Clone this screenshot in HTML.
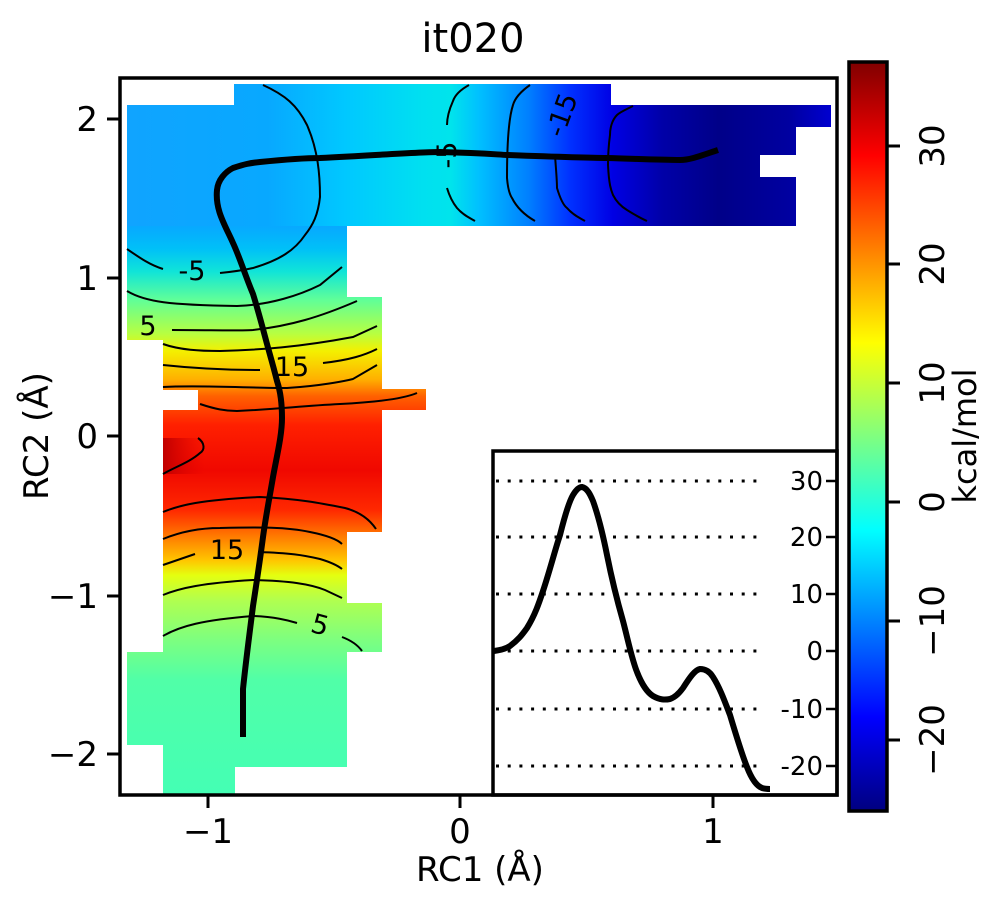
<!DOCTYPE html>
<html><head><meta charset="utf-8"><style>
html,body{margin:0;padding:0;background:#fff;}
svg{display:block;font-family:"DejaVu Sans","Liberation Sans",sans-serif;}
</style></head><body>
<svg width="999" height="900" viewBox="0 0 999 900" xmlns="http://www.w3.org/2000/svg">
<defs>
<linearGradient id="lv" x1="0" y1="226" x2="0" y2="794" gradientUnits="userSpaceOnUse">
<stop offset="0" stop-color="#08a8ff"/>
<stop offset="0.04" stop-color="#00c0f8"/>
<stop offset="0.08" stop-color="#10e4d8"/>
<stop offset="0.13" stop-color="#60ff98"/>
<stop offset="0.19" stop-color="#b8ff40"/>
<stop offset="0.22" stop-color="#f4f000"/>
<stop offset="0.27" stop-color="#ffb000"/>
<stop offset="0.30" stop-color="#ff6000"/>
<stop offset="0.35" stop-color="#ff2000"/>
<stop offset="0.43" stop-color="#f00800"/>
<stop offset="0.50" stop-color="#ff2800"/>
<stop offset="0.545" stop-color="#ff7800"/>
<stop offset="0.59" stop-color="#ffc800"/>
<stop offset="0.615" stop-color="#e4ff10"/>
<stop offset="0.66" stop-color="#b0ff50"/>
<stop offset="0.73" stop-color="#7cff80"/>
<stop offset="0.80" stop-color="#50ffa8"/>
<stop offset="1" stop-color="#44ffb4"/>
</linearGradient>
<linearGradient id="bh" x1="127" y1="0" x2="831" y2="0" gradientUnits="userSpaceOnUse">
<stop offset="0" stop-color="#10a4ff"/>
<stop offset="0.2" stop-color="#08a8ff"/>
<stop offset="0.31" stop-color="#00c8ff"/>
<stop offset="0.42" stop-color="#00e0f0"/>
<stop offset="0.46" stop-color="#00e4ec"/>
<stop offset="0.50" stop-color="#00c0ff"/>
<stop offset="0.57" stop-color="#0080ff"/>
<stop offset="0.63" stop-color="#0030ff"/>
<stop offset="0.69" stop-color="#0000e4"/>
<stop offset="0.76" stop-color="#0000a8"/>
<stop offset="0.84" stop-color="#000088"/>
<stop offset="0.94" stop-color="#0000a0"/>
<stop offset="1" stop-color="#0000d0"/>
</linearGradient>
<linearGradient id="dr" x1="163" y1="0" x2="205" y2="0" gradientUnits="userSpaceOnUse">
<stop offset="0" stop-color="#c00000" stop-opacity="1"/>
<stop offset="1" stop-color="#e00000" stop-opacity="0"/>
</linearGradient>
<linearGradient id="jet" x1="0" y1="811" x2="0" y2="62" gradientUnits="userSpaceOnUse">
<stop offset="0" stop-color="#000080"/>
<stop offset="0.125" stop-color="#0000ff"/>
<stop offset="0.375" stop-color="#00ffff"/>
<stop offset="0.625" stop-color="#ffff00"/>
<stop offset="0.875" stop-color="#ff0000"/>
<stop offset="1" stop-color="#800000"/>
</linearGradient>
</defs>
<g fill="url(#lv)">
<rect x="127" y="226" width="220" height="114"/>
<rect x="347" y="297" width="35" height="43"/>
<rect x="163" y="340" width="219" height="50"/>
<rect x="198" y="389" width="228" height="21"/>
<rect x="163" y="410" width="219" height="122"/>
<rect x="163" y="532" width="184" height="71"/>
<rect x="163" y="603" width="219" height="49"/>
<rect x="127" y="652" width="220" height="93"/>
<rect x="163" y="745" width="72" height="49"/>
<rect x="235" y="745" width="112" height="22"/>
</g>
<rect x="163" y="438" width="45" height="36" fill="url(#dr)"/>
<g fill="url(#bh)">
<rect x="234" y="84" width="377" height="21"/>
<rect x="127" y="105" width="484" height="121"/>
<rect x="611" y="105" width="220" height="22"/>
<rect x="611" y="127" width="185" height="28"/>
<rect x="611" y="155" width="149" height="22"/>
<rect x="611" y="177" width="185" height="49"/>
</g>
<g fill="none" stroke="#000" stroke-width="2">
<path d="M263,85 C285,95 297,105 307,125 C318,150 320,175 320,197 C318,215 313,225 305,235 C295,250 280,260 253,268 C240,271 230,272 220,273"/>
<path d="M127,249 C140,258 150,265 163,269"/>
<path d="M127,291 C145,302 170,305 237,306 C270,305 300,295 320,285 L342,267"/>
<path d="M172,330 C210,330 240,331 253,330 C290,326 320,317 357,301"/>
<path d="M163,344 C180,350 200,351 220,351 C260,350 300,347 353,337 L377,326"/>
<path d="M163,365 C200,369 240,370 260,370"/>
<path d="M323,363 C350,360 365,355 377,349"/>
<path d="M163,387 C200,385 250,388 287,388 C320,386 345,381 353,379 L377,365"/>
<path d="M200,404 C215,409 225,411 237,411 C280,409 300,406 340,404 C380,402 405,398 417,393"/>
<path d="M198,438 C205,443 205,450 200,453 C190,462 175,467 163,474"/>
<path d="M163,512 C180,505 200,500 260,497 C300,499 320,503 345,508 C360,512 370,520 376,529"/>
<path d="M163,539 C180,532 200,528 220,528 C260,527 287,527 310,532 C330,536 338,540 342,544"/>
<path d="M163,565 L195,554"/>
<path d="M258,552 C290,553 303,555 320,559 C330,562 337,565 342,569"/>
<path d="M163,595 C180,588 203,583 253,580 C290,581 310,584 325,590 L342,598"/>
<path d="M163,636 C180,626 203,620 253,616 C275,617 287,620 297,623"/>
<path d="M342,637 C350,640 357,644 362,651"/>
<path d="M469,85 C460,90 455,95 453,101 C449,110 447,118 447,125"/>
<path d="M447,188 C450,198 453,203 457,208 C463,215 470,218 475,221"/>
<path d="M530,85 C520,92 515,98 513,105 C508,120 507,150 507,178 C508,190 510,195 512,198 C518,210 528,217 535,221"/>
<path d="M555,155 C556,170 557,180 557,188 C560,198 563,205 567,208 C573,215 580,218 585,221"/>
<path d="M633,106 C625,110 620,112 617,115 C612,120 610,128 610,135 C608,150 608,160 608,165 C609,185 611,190 613,195 C617,203 622,207 627,210 C635,215 640,218 647,221"/>
</g>
<g font-size="27" fill="#000">
<text x="192" y="280" text-anchor="middle">-5</text>
<text x="148" y="335" text-anchor="middle">5</text>
<text x="292" y="376" text-anchor="middle">15</text>
<text x="227" y="559" text-anchor="middle">15</text>
<text x="320" y="634" text-anchor="middle" transform="rotate(15 320 625)">5</text>
<text x="447" y="164" text-anchor="middle" transform="rotate(-90 447 155)">-5</text>
<text x="562" y="124" text-anchor="middle" transform="rotate(-70 562 115)">-15</text>
</g>
<path d="M243,737 L243,689 C246,660 250,630 253,606 C257,580 260,560 263,537 C266,515 270,495 273,477 C277,455 282,435 282,418 C282,400 280,390 277,381 C273,365 270,355 267,344 C262,325 258,310 253,294 C245,275 240,258 233,243 C225,225 215,210 217,190 C218,180 225,172 233,168 C245,164 250,163 260,162 C290,159 310,158 320,158 C380,155 420,152 440,152 C480,153 490,154 507,155 C560,157 590,158 607,158 C640,159 660,160 680,160 C690,160 700,156 718,150" fill="none" stroke="#000" stroke-width="6"/>
<rect x="493" y="451" width="344" height="344" fill="#fff" stroke="#000" stroke-width="3.5"/>
<g stroke="#000" stroke-width="3" stroke-dasharray="3,8.7">
<line x1="496" y1="481" x2="765" y2="481"/>
<line x1="496" y1="537" x2="765" y2="537"/>
<line x1="496" y1="594" x2="765" y2="594"/>
<line x1="496" y1="651" x2="765" y2="651"/>
<line x1="496" y1="709" x2="765" y2="709"/>
<line x1="496" y1="766" x2="765" y2="766"/>
</g>
<g stroke="#000" stroke-width="2.5">
<line x1="826" y1="481" x2="837" y2="481"/><line x1="826" y1="537" x2="837" y2="537"/>
<line x1="826" y1="594" x2="837" y2="594"/><line x1="826" y1="651" x2="837" y2="651"/>
<line x1="826" y1="709" x2="837" y2="709"/><line x1="826" y1="766" x2="837" y2="766"/>
</g>
<g font-size="26" fill="#000" text-anchor="end">
<text x="823" y="490">30</text><text x="823" y="546">20</text><text x="823" y="603">10</text>
<text x="823" y="660">0</text><text x="823" y="718">-10</text><text x="823" y="775">-20</text>
</g>
<path d="M494,651 C502,650 507,648 510,646 C518,640 522,635 527,628 C535,615 539,603 543,591 C550,570 555,550 560,535 C565,515 570,500 573,495 C576,490 579,487 582,487 C587,488 590,494 593,501 C598,515 603,535 607,555 C612,580 617,600 623,621 C628,640 632,660 637,672 C642,685 648,693 653,696 C660,700 665,700 670,699 C676,697 680,692 683,688 C690,677 695,670 700,669 C706,669 710,672 713,677 C720,688 725,702 730,715 C736,735 742,755 747,767 C752,780 757,786 762,788 C765,789 768,789 770,789" fill="none" stroke="#000" stroke-width="6"/>
<rect x="120" y="78" width="717" height="717" fill="none" stroke="#000" stroke-width="3.5"/>
<g stroke="#000" stroke-width="3">
<line x1="208" y1="795" x2="208" y2="808"/><line x1="460" y1="795" x2="460" y2="808"/><line x1="713" y1="795" x2="713" y2="808"/>
<line x1="107" y1="119" x2="120" y2="119"/><line x1="107" y1="278" x2="120" y2="278"/><line x1="107" y1="436" x2="120" y2="436"/>
<line x1="107" y1="596" x2="120" y2="596"/><line x1="107" y1="754" x2="120" y2="754"/>
</g>
<g font-size="34" fill="#000">
<text x="208" y="843" text-anchor="middle">−1</text>
<text x="460" y="843" text-anchor="middle">0</text>
<text x="713" y="843" text-anchor="middle">1</text>
<text x="98" y="131" text-anchor="end">2</text>
<text x="98" y="290" text-anchor="end">1</text>
<text x="98" y="448" text-anchor="end">0</text>
<text x="98" y="608" text-anchor="end">−1</text>
<text x="98" y="766" text-anchor="end">−2</text>
</g>
<text x="480" y="881" font-size="34" text-anchor="middle">RC1 (Å)</text>
<text x="0" y="0" font-size="34" text-anchor="middle" transform="translate(48 436) rotate(-90)">RC2 (Å)</text>
<text x="473" y="52" font-size="40" text-anchor="middle">it020</text>
<rect x="849" y="62" width="38" height="749" fill="url(#jet)" stroke="#000" stroke-width="3.5"/>
<g stroke="#000" stroke-width="3">
<line x1="887" y1="146" x2="900" y2="146"/><line x1="887" y1="264" x2="900" y2="264"/>
<line x1="887" y1="383" x2="900" y2="383"/><line x1="887" y1="502" x2="900" y2="502"/>
<line x1="887" y1="621" x2="900" y2="621"/><line x1="887" y1="740" x2="900" y2="740"/>
</g>
<g font-size="34" fill="#000" text-anchor="middle">
<text transform="translate(944 146) rotate(-90)">30</text>
<text transform="translate(944 264) rotate(-90)">20</text>
<text transform="translate(944 383) rotate(-90)">10</text>
<text transform="translate(944 502) rotate(-90)">0</text>
<text transform="translate(944 621) rotate(-90)">−10</text>
<text transform="translate(944 740) rotate(-90)">−20</text>
<text transform="translate(976 436) rotate(-90)" font-size="32">kcal/mol</text>
</g>
</svg>
</body></html>
